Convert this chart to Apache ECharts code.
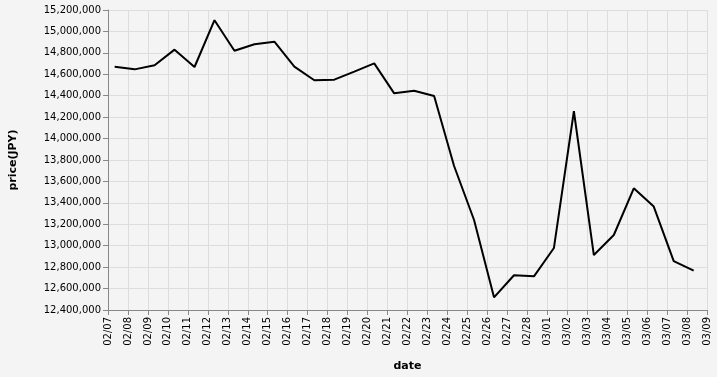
<!DOCTYPE html>
<html>
<head>
<meta charset="utf-8">
<script src="https://cdn.jsdelivr.net/npm/echarts@6/dist/echarts.min.js"></script>
<style>
html,body{margin:0;padding:0;background:#f4f4f4;}
#c{width:717px;height:377px;}
</style>
</head>
<body>
<div id="c"></div>
<script>
const dates = ['2025-02-07','2025-02-08','2025-02-09','2025-02-10','2025-02-11','2025-02-12','2025-02-13','2025-02-14','2025-02-15','2025-02-16','2025-02-17','2025-02-18','2025-02-19','2025-02-20','2025-02-21','2025-02-22','2025-02-23','2025-02-24','2025-02-25','2025-02-26','2025-02-27','2025-02-28','2025-03-01','2025-03-02','2025-03-03','2025-03-04','2025-03-05','2025-03-06','2025-03-07','2025-03-08'];
const prices = [14671000,14646000,14684000,14830000,14668000,15105000,14820000,14880000,14904000,14671000,14544000,14550000,14625000,14702000,14422000,14447000,14398000,13744000,13240000,12518000,12724000,12714000,12979000,14255000,12913000,13100000,13536000,13365000,12857000,12767000];
const yMin = 12400000, yMax = 15200000, yStep = 200000;
const xMin = '2025-02-07 00:00', xMax = '2025-03-09 00:00';

const toTime = s => { const p = s.split('-').map(Number); return new Date(p[0], p[1]-1, p[2], 8, 0, 0).getTime(); };
const seriesData = dates.map((d,i)=>[toTime(d), prices[i]]);
const parseLocal = s => { const [d,t] = s.split(' '); const p = d.split('-').map(Number); return new Date(p[0],p[1]-1,p[2]).getTime(); };
const DAY = 86400000;

const chart = echarts.init(document.getElementById('c'), null, {renderer:'canvas'});
const font = 'DejaVu Sans';
chart.setOption({
  backgroundColor:'#f4f4f4',
  animation:false,
  grid:{left:107, top:10, width:600, height:300, containLabel:false},
  xAxis:{
    type:'time',
    min: parseLocal(xMin), max: parseLocal(xMax),
    interval: DAY, minInterval: DAY, maxInterval: DAY,
    name:'date', nameLocation:'middle', nameGap:51,
    nameTextStyle:{fontFamily:font, fontSize:11, fontWeight:'bold', color:'#000'},
    axisLine:{show:true, lineStyle:{color:'#888', width:1}},
    axisTick:{show:true, length:5, lineStyle:{color:'#888'}},
    splitLine:{show:true, lineStyle:{color:'#ddd', width:1}},
    axisLabel:{rotate:90, fontFamily:font, fontSize:10, color:'#000', margin:7,
      showMinLabel:true, showMaxLabel:true, hideOverlap:false,
      formatter: v => { const d = new Date(v); return String(d.getMonth()+1).padStart(2,'0') + '/' + String(d.getDate()).padStart(2,'0'); }}
  },
  yAxis:{
    type:'value', min:yMin, max:yMax, interval:yStep,
    name:'price(JPY)', nameLocation:'middle', nameGap:89, nameRotate:90,
    nameTextStyle:{fontFamily:font, fontSize:11, fontWeight:'bold', color:'#000'},
    axisLine:{show:true, lineStyle:{color:'#888', width:1}},
    axisTick:{show:true, length:5, lineStyle:{color:'#888'}},
    splitLine:{show:true, lineStyle:{color:'#ddd', width:1}},
    axisLabel:{fontFamily:font, fontSize:10, color:'#000', margin:7,
      formatter: v => v.toLocaleString('en-US')}
  },
  series:[{
    type:'line', data:seriesData, showSymbol:false, symbol:'none',
    lineStyle:{color:'#000', width:2}, itemStyle:{color:'#000'}
  }]
});
</script>
</body>
</html>
